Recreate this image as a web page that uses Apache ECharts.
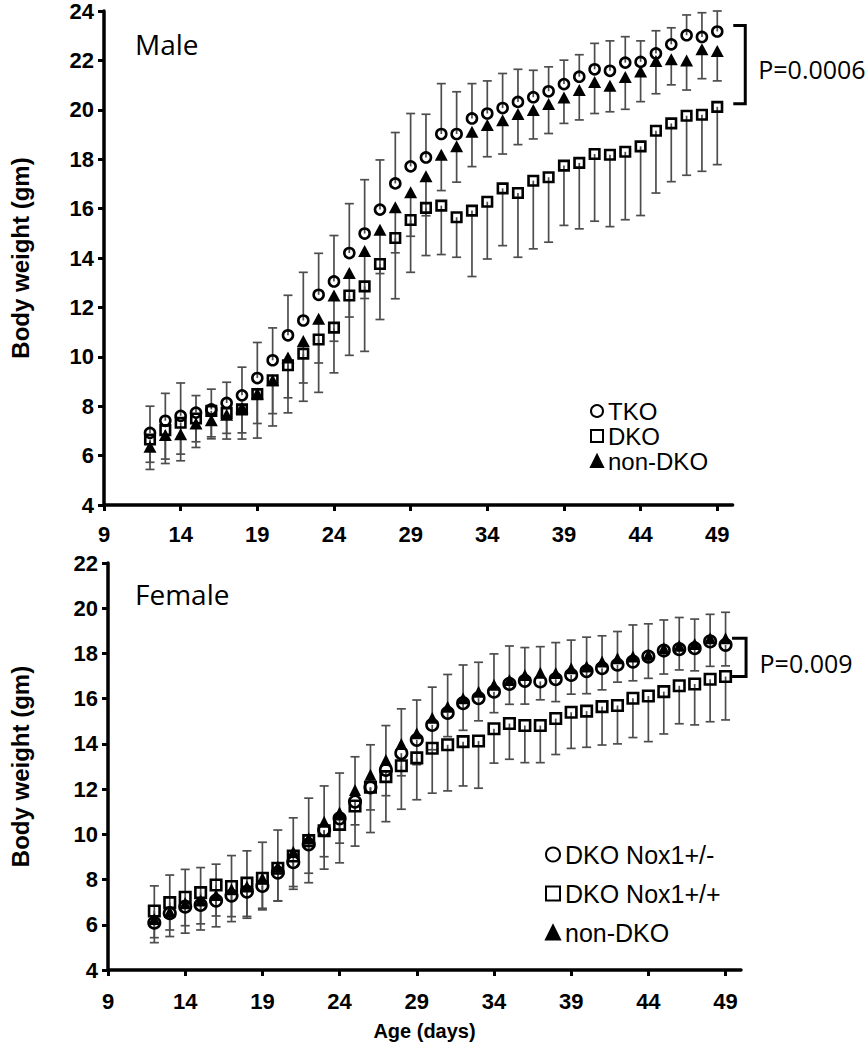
<!DOCTYPE html>
<html><head><meta charset="utf-8">
<script src="https://cdn.jsdelivr.net/npm/echarts@6/dist/echarts.min.js"></script>
<style>html,body{margin:0;padding:0;background:#fff}#c{width:868px;height:1050px}</style>
</head><body><div id="c"></div>
<script>
// ---- data ----
const days = [12,13,14,15,16,17,18,19,20,21,22,23,24,25,26,27,28,29,30,31,32,33,34,35,36,37,38,39,40,41,42,43,44,45,46,47,48,49];
const xTicks = [9,14,19,24,29,34,39,44,49];

// Male
const maleTKO = [6.92,7.41,7.61,7.74,7.87,8.13,8.44,9.14,9.86,10.87,11.47,12.51,13.05,
  14.2,14.99,15.96,17.02,17.71,18.07,19.02,19.02,19.65,19.85,20.07,20.32,20.51,20.75,21.04,21.34,21.64,21.58,21.91,21.94,22.28,22.65,23.02,22.95,23.17];
const maleTKOsd = [1.08,1.11,1.33,0.69,0.82,0.84,1.14,1.44,1.31,1.62,1.95,1.68,1.86,
  2.0,2.18,2.01,2.06,2.14,1.75,2.04,1.71,1.41,1.32,1.40,1.32,1.09,0.99,0.97,0.89,1.05,1.21,1.05,0.85,0.92,0.67,0.82,0.98,0.83];
const maleDKO = [6.65,7.03,7.33,7.5,7.81,7.73,7.87,8.49,9.05,9.66,10.13,10.7,11.18,
  12.48,12.85,13.76,14.81,15.54,16.03,16.12,15.65,15.92,16.28,16.82,16.63,17.13,17.27,17.74,17.85,18.21,18.18,18.3,18.52,19.15,19.45,19.76,19.8,20.12];
const maleDKOsd = [1.21,1.35,1.54,1.17,1.13,1.06,1.2,1.78,1.85,1.93,1.93,2.14,1.83,
  2.42,2.63,2.25,2.46,2.12,1.93,1.98,1.62,2.67,2.32,2.32,2.6,2.76,2.63,2.42,2.67,2.72,2.91,2.75,2.8,2.52,2.36,2.41,2.29,2.34];
const maleNon = [6.36,6.83,6.86,7.3,7.43,7.65,7.95,8.51,9.05,9.97,10.64,11.54,12.48,
  13.39,14.28,15.14,16.05,16.66,17.31,18.18,18.52,19.11,19.38,19.58,19.83,19.99,20.23,20.5,20.8,21.13,20.97,21.33,21.55,21.98,22.05,22.0,22.45,22.38];
const maleNonsd = [0.63,0.97,0.8,0.74,0.67,0.75,1.03,1.21,1.35,1.63,1.7,1.79,1.85,
  1.78,1.92,1.77,1.84,1.78,1.6,1.45,1.45,1.41,1.28,1.37,1.24,1.17,1.19,1.05,1.21,1.28,1.05,1.31,1.22,1.33,1.04,1.2,1.19,1.21];

// Female
const femHet = [6.09,6.51,6.8,6.88,7.07,7.29,7.47,7.72,8.31,8.77,9.56,10.19,10.71,
  11.45,12.08,12.85,13.59,14.18,14.84,15.37,15.8,16.02,16.31,16.65,16.79,16.76,16.86,17.05,17.22,17.35,17.5,17.64,17.86,18.13,18.19,18.23,18.53,18.38];
const femHetsd = [0.66,0.74,0.84,0.84,0.68,0.93,1.1,0.99,1.25,1.08,1.28,1.18,1.1,
  1.03,1.0,1.14,1.0,1.1,1.1,1.05,1.2,1.0,0.93,0.9,1.03,0.81,0.99,0.85,1.0,0.96,0.77,0.85,0.96,1.04,0.92,1.0,1.1,0.93];
const femWT = [6.61,6.98,7.22,7.42,7.76,7.69,7.84,8.06,8.5,9.04,9.72,10.16,10.44,
  11.25,12.08,12.55,13.03,13.38,13.81,13.96,14.1,14.13,14.67,14.9,14.81,14.81,15.12,15.4,15.45,15.65,15.7,16.02,16.12,16.31,16.57,16.65,16.86,16.98];
const femWTsd = [1.4,1.5,1.59,1.65,1.85,1.55,1.55,1.4,1.45,1.47,1.86,1.7,1.7,
  1.77,2.0,1.99,1.92,1.85,1.99,2.04,1.96,2.09,1.52,1.58,1.64,1.64,1.59,1.6,1.6,1.7,1.7,1.74,2.02,1.87,1.68,1.81,1.88,1.92];
const femNon = [6.26,6.58,6.95,7.07,7.32,7.57,7.69,8.06,8.57,9.23,9.83,10.56,10.97,
  11.96,12.63,13.29,14.0,14.47,15.16,15.64,16.02,16.31,16.61,16.83,17.05,17.15,17.13,17.35,17.42,17.64,17.79,17.86,17.94,18.23,18.34,18.42,18.67,18.67];
const femNonsd = [1.46,1.62,1.5,1.46,1.36,1.49,1.58,1.59,1.62,1.5,1.77,1.58,1.74,
  1.47,1.33,1.52,1.55,1.47,1.35,1.43,1.47,1.3,1.37,1.5,1.21,1.15,1.35,1.24,1.3,1.14,1.18,1.4,1.37,1.25,1.25,1.1,1.06,1.15];

const maleNames = ['TKO','DKO','non-DKO'];
const femNames = ['DKO Nox1+/-','DKO Nox1+/+','non-DKO'];
const panelTitles = ['Male','Female'];
const pValues = ['P=0.0006','P=0.009'];

// ---- helpers ----
const ARIAL = '"Liberation Sans", Arial, sans-serif';
const CAL = '"Open Sans", sans-serif';
const pts = v => days.map((d,i)=>[d, v[i]]);
const errData = (v, s) => days.map((d,i)=>[d, v[i], s[i]]);

function errBar(dir){
  return function(params, api){
    const x = api.value(0), y = api.value(1), sd = api.value(2);
    const p0 = api.coord([x,y]);
    const p1 = api.coord([x, y + dir*sd]);
    const cw = 4.5, st = {stroke:'#4d4d4d', lineWidth:1.7};
    return {type:'group', children:[
      {type:'line', shape:{x1:p0[0],y1:p0[1],x2:p1[0],y2:p1[1]}, style:st},
      {type:'line', shape:{x1:p1[0]-cw,y1:p1[1],x2:p1[0]+cw,y2:p1[1]}, style:st}
    ]};
  };
}
function errSeries(idx, v, s, dir){
  return {type:'custom', xAxisIndex:idx, yAxisIndex:idx, data:errData(v,s),
    renderItem:errBar(dir), clip:false, silent:true, z:1, encode:{x:0,y:1}};
}
function scat(idx, name, v, symbol, size, filled, bw){
  return {type:'scatter', name, xAxisIndex:idx, yAxisIndex:idx, data:pts(v),
    symbol, symbolSize:size, z:3,
    itemStyle:{color: filled ? '#000' : 'rgba(255,255,255,0)', borderColor:'#000', borderWidth: filled ? 0 : bw, opacity:1}};
}
function bracket(idx, text, day, top, bot, o){
  return {type:'custom', xAxisIndex:idx, yAxisIndex:idx, data:[[day, top, bot]], clip:false, silent:true, z:4,
    renderItem:function(params, api){
      const a = api.coord([api.value(0), api.value(1)]);
      const b = api.coord([api.value(0), api.value(2)]);
      const x0 = a[0]+o.x0, x1 = a[0]+o.x1, yt = a[1]+o.dt, yb = b[1]+o.db;
      return {type:'group', children:[
        {type:'polyline', shape:{points:[[x0,yt],[x1,yt],[x1,yb],[x0,yb]]}, style:{stroke:'#000', lineWidth:3, fill:null}},
        {type:'text', style:{text, x:a[0]+o.tx, y:(yt+yb)/2+o.ty, fontSize:25, fontFamily:CAL, fill:'#000', verticalAlign:'middle', align:'left'}}
      ]};
    }};
}
function xAx(idx, name){
  return {type:'value', gridIndex:idx, min:9, max:50,
    axisLine:{show:true, onZero:false, lineStyle:{color:'#000', width:3.5}},
    axisTick:{show:true, customValues:xTicks, length:6, inside:false, lineStyle:{color:'#000', width:3}},
    axisLabel:{customValues:xTicks, margin: idx===0?18:20, fontFamily:ARIAL, fontWeight:'bold', fontSize:22, color:'#000'},
    splitLine:{show:false},
    name: name || '', nameLocation:'middle', nameGap:51,
    nameTextStyle:{fontFamily:ARIAL, fontWeight:'bold', fontSize:20, color:'#000'}};
}
function yAx(idx, max, gap){
  return {type:'value', gridIndex:idx, min:4, max, interval:2,
    axisLine:{show:true, onZero:false, lineStyle:{color:'#000', width:3.5}},
    axisTick:{show:true, length:6, lineStyle:{color:'#000', width:3}},
    axisLabel:{margin:10, fontFamily:ARIAL, fontWeight:'bold', fontSize:22, color:'#000'},
    splitLine:{show:false},
    name:'Body weight (gm)', nameLocation:'middle', nameGap:gap,
    nameTextStyle:{fontFamily:ARIAL, fontWeight:'bold', fontSize:24, color:'#000'}};
}

const last = a => a[a.length-1];
const chart = echarts.init(document.getElementById('c'), null, {renderer:'svg', width:868, height:1050});
chart.setOption({
  animation:false,
  backgroundColor:'#fff',
  grid:[{left:93, top:10, width:639.6, height:495},
        {left:98.5, top:563, width:642.5, height:407}],
  xAxis:[xAx(0), xAx(1,'Age (days)')],
  yAxis:[yAx(0,24,72), yAx(1,22,76)],
  legend:[
    {data:maleNames, orient:'vertical', left:585, top:394, itemWidth:12, itemHeight:12, itemGap:1,
     selectedMode:false, itemStyle:{borderWidth:2},
     textStyle:{fontFamily:ARIAL, fontSize:24, color:'#000', lineHeight:24}},
    {data:femNames, orient:'vertical', left:540, top:837, itemWidth:14, itemHeight:14, itemGap:14,
     selectedMode:false, itemStyle:{borderWidth:2},
     textStyle:{fontFamily:ARIAL, fontSize:25, color:'#000', lineHeight:25}}
  ],
  graphic:[
    {type:'text', x:135, y:44, style:{text:panelTitles[0], fontSize:28, fontFamily:CAL, fill:'#000', verticalAlign:'middle'}},
    {type:'text', x:135, y:594, style:{text:panelTitles[1], fontSize:28, fontFamily:CAL, fill:'#000', verticalAlign:'middle'}}
  ],
  series:[
    errSeries(0, maleTKO, maleTKOsd, 1),
    errSeries(0, maleNon, maleNonsd, -1),
    errSeries(0, maleDKO, maleDKOsd, -1),
    scat(0, maleNames[0], maleTKO, 'circle', 10, false, 2.6),
    scat(0, maleNames[1], maleDKO, 'rect', 9.5, false, 2.6),
    scat(0, maleNames[2], maleNon, 'triangle', [13,12], true, 0),
    bracket(0, pValues[0], 49, last(maleTKO), last(maleDKO), {x0:16, x1:28, dt:-6, db:-3, tx:41, ty:4}),

    errSeries(1, femNon, femNonsd, 1),
    errSeries(1, femHet, femHetsd, -1),
    errSeries(1, femWT, femWTsd, -1),
    scat(1, femNames[0], femHet, 'circle', 11.5, false, 2.6),
    scat(1, femNames[1], femWT, 'rect', 10.5, false, 2.6),
    scat(1, femNames[2], femNon, 'triangle', [12,12], true, 0),
    bracket(1, pValues[1], 49, last(femNon), last(femWT), {x0:6.5, x1:20.5, dt:0, db:0, tx:34, ty:6})
  ]
});
</script>
</body></html>
